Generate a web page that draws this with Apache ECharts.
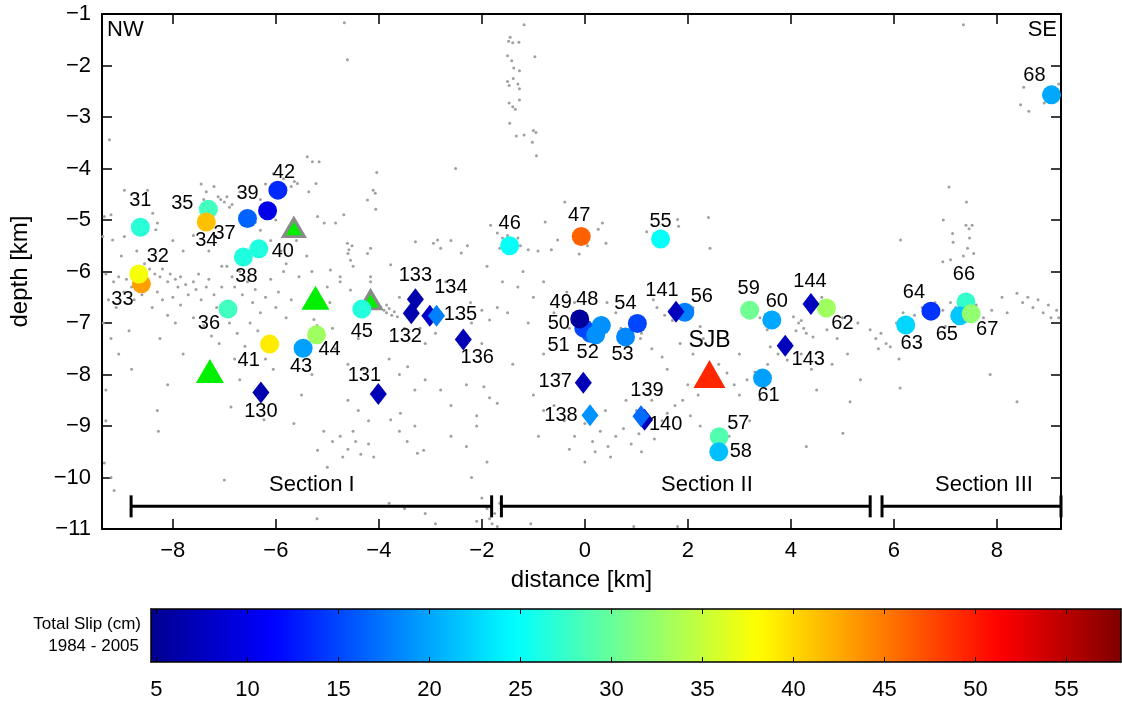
<!DOCTYPE html>
<html>
<head>
<meta charset="utf-8">
<script src="https://cdn.jsdelivr.net/npm/echarts@6.0.0/dist/echarts.min.js"></script>
<style>
  html, body { margin: 0; padding: 0; background: #fff; }
  #chart { width: 1122px; height: 704px; }
</style>
</head>
<body>
<div id="chart"></div>
<script>
// ---- Earthquakes with total slip 1984-2005 (circles) ----
const circleIds   = [31, 33, 32, 35, 34, 36, 37, 38, 40, 39, 42, 41, 43, 44, 45, 46, 47, 51, 50, 52, 48, 49, 53, 54, 55, 56, 57, 58, 59, 60, 61, 62, 63, 64, 66, 65, 67, 68];
const circleDist  = [-8.63, -8.61, -8.66, -7.31, -7.35, -6.93, -6.55, -6.63, -6.33, -6.16, -5.96, -6.12, -5.47, -5.21, -4.33, -1.46, -0.07, 0.11, -0.02, 0.21, 0.32, -0.10, 0.79, 1.02, 1.47, 1.94, 2.61, 2.60, 3.20, 3.63, 3.45, 4.69, 6.23, 6.72, 7.40, 7.28, 7.50, 9.06];
const circleDepth = [-5.14, -6.24, -6.05, -4.79, -5.04, -6.73, -4.97, -5.72, -5.56, -4.82, -4.42, -7.41, -7.49, -7.23, -6.73, -5.50, -5.32, -7.20, -7.10, -7.23, -7.05, -6.92, -7.27, -7.01, -5.37, -6.79, -9.21, -9.50, -6.75, -6.94, -8.07, -6.71, -7.04, -6.77, -6.59, -6.86, -6.82, -2.57];
const circleSlip  = [26.8, 43.0, 37.5, 28.0, 41.3, 28.0, 16.5, 26.3, 26.3, 10.0, 13.5, 39.0, 19.7, 33.0, 26.5, 25.0, 46.3, 16.4, 15.0, 18.9, 18.9, 5.5, 18.4, 15.0, 25.0, 18.0, 28.9, 21.4, 30.5, 20.2, 19.7, 33.0, 22.6, 14.0, 27.4, 21.8, 32.2, 20.2];

// ---- Repeating events (diamonds) ----
const diamondIds   = [130, 131, 133, 132, 134, 135, 136, 137, 138, 140, 139, 141, 143, 144];
const diamondDist  = [-6.29, -4.01, -3.29, -3.37, -3.01, -2.88, -2.36, -0.03, 0.10, 1.16, 1.09, 1.77, 3.89, 4.39];
const diamondDepth = [-8.35, -8.38, -6.54, -6.81, -6.86, -6.86, -7.32, -8.16, -8.79, -8.88, -8.81, -6.78, -7.44, -6.63];
const diamondSlip  = [6.5, 7.0, 6.5, 6.5, 8.0, 18.0, 7.0, 7.0, 19.0, 7.0, 17.0, 7.5, 7.5, 7.5];

// ---- Stations ----
const greenStationDist   = [-7.28, -5.23];
const greenStationDepth  = [-7.93, -6.51];
const edgedStationDist   = [-5.65, -4.16];
const edgedStationDepth  = [-5.15, -6.55];
const sjbDist  = [2.42];
const sjbDepth = [-7.99];

// ---- Fault sections ----
const sectionNames      = ['Section I', 'Section II', 'Section III'];
const sectionStart      = [-8.81, -1.62, 5.77];
const sectionEnd        = [-1.81, 5.54, 9.245];
const sectionDepth      = [-10.56, -10.56, -10.56];
const sectionLabelDist  = [-5.30, 2.37, 7.75];
const sectionLabelDepth = [-10.15, -10.15, -10.15];

// ---- Axis ticks ----
const distTicks = [-8, -6, -4, -2, 0, 2, 4, 6, 8];
const slipTicks = [5, 10, 15, 20, 25, 30, 35, 40, 45, 50, 55];
const distRange = [-9.375, 9.245];
const depthRange = [-11, -1];
const slipRange = [4.7, 58];

// ---- Background seismicity ----
const seismicity = [
  [-9.23,-3.44],[-9.2,-4.9],[-9.33,-4.93],[-9.36,-5.32],[-9.17,-5.39],[-8.94,-5.32],[-8.94,-4.42],[-8.68,-4.51],[-8.49,-4.42],[-9.3,-6.05],[-9.15,-6.2],[-9.05,-6.1],[-8.9,-6.15],[-8.8,-6.3],[-9.25,-6.55],[-9.1,-6.7],[-8.95,-6.4],[-8.75,-6.55],[-8.6,-6.45],[-8.5,-6.3],[-9.35,-7.0],[-9.2,-7.3],[-9.05,-7.6],[-8.85,-7.15],[-9.33,-9.72],[-9.2,-10.0],[-9.14,-10.25],[-9.3,-8.3],[-8.7,-5.6],[-8.55,-5.85],[-9.0,-5.7],[-8.8,-7.9],[-9.3,-8.9],
  [-8.39,-4.87],[-8.3,-5.06],[-8.33,-5.19],[-8.45,-5.95],[-8.35,-6.05],[-8.25,-6.1],[-8.2,-5.95],[-8.1,-6.2],[-8.05,-6.05],[-7.95,-6.15],[-7.9,-6.3],[-7.85,-6.1],[-7.75,-6.25],[-7.7,-6.45],[-7.6,-6.2],[-7.55,-6.35],[-7.5,-6.05],[-7.45,-6.55],[-7.35,-6.3],[-7.3,-6.15],[-7.2,-6.45],[-7.15,-6.7],[-7.05,-6.3],[-8.3,-6.4],[-8.2,-6.55],[-8.0,-6.5],[-7.85,-6.65],[-8.4,-6.7],[-8.1,-6.85],[-7.95,-7.0],[-8.25,-7.3],[-7.6,-6.9],[-7.4,-7.05],[-7.25,-7.25],[-7.1,-7.4],[-8.3,-8.7],[-8.28,-9.1],[-8.1,-8.2],[-7.8,-7.6],[-7.45,-4.3],[-7.35,-4.45],[-7.2,-4.35],[-7.12,-4.55],[-7.07,-4.6],[-7.0,-4.65],[-6.95,-4.55],[-6.9,-4.75],[-7.4,-4.6],[-7.0,-10.05],[-7.6,-5.3],[-7.8,-5.6],[-8.0,-5.4],[-7.3,-5.6],[-7.05,-5.9],
  [-6.85,-4.7],[-6.7,-4.45],[-6.5,-4.35],[-6.3,-4.6],[-6.2,-4.3],[-6.05,-4.1],[-5.9,-4.55],[-5.85,-4.2],[-5.7,-4.35],[-5.64,-4.25],[-5.58,-4.29],[-5.36,-4.45],[-5.22,-4.29],[-5.39,-3.77],[-5.29,-3.87],[-5.16,-3.87],[-6.95,-5.9],[-6.85,-6.1],[-6.8,-6.3],[-6.7,-6.0],[-6.65,-6.45],[-6.55,-6.2],[-6.45,-6.6],[-6.4,-6.35],[-6.3,-6.8],[-6.2,-6.5],[-6.1,-6.15],[-6.0,-6.7],[-5.95,-6.4],[-5.85,-6.0],[-5.8,-6.9],[-5.7,-6.55],[-6.9,-7.0],[-6.75,-7.2],[-6.6,-7.45],[-6.5,-7.0],[-6.35,-7.15],[-6.2,-7.7],[-6.05,-7.9],[-6.8,-7.7],[-6.7,-8.1],[-6.87,-8.63],[-6.5,-8.8],[-6.23,-8.88],[-5.65,-8.95],[-6.3,-5.2],[-6.1,-5.4],[-5.9,-5.6],[-5.8,-5.85],[-5.6,-5.4],[-5.55,-6.1],[-6.0,-5.0],[-6.4,-5.05],
  [-5.5,-5.3],[-5.4,-5.7],[-5.3,-6.0],[-5.19,-4.93],[-5.06,-5.06],[-4.84,-5.06],[-5.26,-6.93],[-5.12,-7.2],[-5.2,-7.05],[-5.0,-6.3],[-4.95,-6.6],[-4.9,-7.1],[-4.85,-7.5],[-4.75,-6.2],[-4.68,-4.9],[-4.61,-5.45],[-4.58,-5.58],[-4.55,-5.78],[-4.6,-5.65],[-4.52,-5.5],[-4.5,-5.9],[-4.16,-5.55],[-4.22,-5.65],[-4.22,-4.61],[-4.11,-4.42],[-4.07,-4.48],[-4.06,-4.79],[-4.04,-4.08],[-4.67,-1.17],[-4.61,-1.89],[-4.94,-5.97],[-4.75,-6.1],[-4.55,-6.36],[-4.16,-6.1],[-4.16,-6.2],[-4.4,-7.3],[-4.6,-7.8],[-4.3,-7.9],[-4.6,-8.5],[-4.4,-8.7],[-4.2,-8.9],[-5.19,-9.47],[-5.07,-9.1],[-4.9,-9.3],[-4.75,-9.2],[-4.6,-9.45],[-4.5,-9.1],[-4.35,-9.55],[-4.2,-9.35],[-4.1,-9.6],[-4.45,-9.3],[-4.7,-9.6],[-5.0,-9.8],[-5.5,-8.4],[-5.3,-8.0],
  [-3.96,-6.69],[-3.9,-6.75],[-3.85,-6.8],[-3.8,-6.72],[-3.75,-6.85],[-3.7,-6.78],[-3.64,-6.88],[-3.85,-6.65],[-3.77,-5.87],[-3.29,-5.42],[-3.6,-6.5],[-3.5,-7.1],[-3.4,-7.3],[-3.2,-7.1],[-3.1,-7.4],[-2.9,-7.2],[-3.8,-7.7],[-3.6,-8.0],[-3.3,-8.3],[-3.44,-7.85],[-3.1,-8.1],[-2.8,-8.3],[-2.6,-8.6],[-2.3,-8.2],[-2.1,-8.8],[-1.96,-8.24],[-1.85,-8.45],[-1.7,-8.56],[-3.77,-8.88],[-3.6,-9.1],[-3.45,-9.3],[-3.3,-9.0],[-3.13,-9.47],[-3.58,-8.75],[-3.25,-9.53],[-3.8,-10.5],[-3.5,-10.6],[-3.1,-10.7],[-2.94,-5.45],[-2.8,-5.55],[-2.6,-5.4],[-2.4,-5.64],[-2.28,-5.5],[-2.86,-5.39],[-2.51,-4.0],[-2.22,-6.6],[-2.0,-6.75],[-1.85,-6.94],[-1.7,-6.7],[-2.7,-6.2],[-2.5,-6.9],[-2.2,-7.0],[-2.0,-7.4],[-2.6,-9.2],[-2.3,-9.4],[-2.1,-9.0],[-1.9,-9.7],[-2.2,-10.0],
  [-2.0,-10.4],[-1.9,-10.6],[-1.85,-10.8],[-1.8,-10.9],[-1.75,-10.7],[-1.7,-10.95],[-2.1,-10.85],[-1.65,-10.5],[-5.2,-10.8],[-2.9,-10.9],[0.95,-10.95],[1.8,-10.95],[-1.05,-10.9],
  [-1.48,-1.53],[-1.4,-1.56],[-1.28,-1.55],[-1.5,-1.81],[-1.42,-1.91],[-1.27,-2.1],[-1.39,-2.25],[-1.5,-2.31],[-1.3,-2.36],[-1.47,-2.39],[-1.27,-2.45],[-1.47,-2.73],[-1.4,-2.8],[-1.27,-2.67],[-1.35,-2.85],[-1.46,-3.12],[-1.33,-3.37],[-1.18,-3.35],[-1.0,-3.26],[-0.95,-3.3],[-1.02,-3.49],[-0.94,-3.75],[-1.18,-1.21],[-0.97,-1.83],[-1.45,-1.45],[-1.38,-2.05],
  [-1.83,-5.1],[-1.7,-5.25],[-1.6,-5.35],[-1.55,-5.45],[-1.5,-5.3],[-1.45,-5.55],[-1.4,-5.4],[-1.35,-5.6],[-1.3,-5.35],[-1.25,-5.5],[-1.1,-5.58],[-1.65,-5.55],[-0.39,-4.65],[-0.77,-5.04],[0.34,-5.06],[0.26,-5.18],[0.41,-5.45],[0.05,-5.5],[-0.53,-5.39],[-0.65,-5.58],[-0.91,-5.6],[-0.11,-5.66],[-1.9,-5.9],[-1.6,-6.2],[-1.3,-6.3],[-1.2,-6.0],[-1.0,-6.5],[-0.8,-6.2],[-1.5,-6.8],[-1.1,-7.0],[-0.6,-6.8],[-0.35,-6.4],[-0.2,-6.6],[-0.3,-7.1],[0.1,-6.5],[0.43,-6.6],[0.6,-6.8],[0.7,-7.1],[0.9,-6.9],[1.1,-7.2],[-0.8,-7.6],[-1.4,-7.8],[-0.5,-8.0],
  [-1.0,-8.4],[-0.8,-8.7],[-0.6,-8.6],[-0.4,-8.9],[-0.2,-9.2],[0.0,-8.95],[0.15,-9.3],[0.3,-9.1],[0.45,-9.4],[0.6,-9.2],[0.75,-9.05],[0.9,-9.35],[1.05,-9.15],[1.2,-8.95],[1.35,-9.25],[1.5,-8.9],[1.6,-8.75],[1.75,-8.6],[1.9,-8.5],[2.05,-8.8],[2.2,-8.4],[0.2,-9.5],[0.5,-9.6],[-0.3,-9.45],[1.0,-8.7],[0.8,-8.5],[0.4,-8.7],[1.3,-8.5],[1.1,-9.5],[2.24,-9.0],[-0.9,-9.2],[0.0,-9.7],
  [1.4,-6.7],[1.55,-6.85],[1.65,-6.75],[1.7,-6.95],[1.85,-6.8],[2.0,-6.9],[2.1,-6.7],[2.24,-7.07],[1.33,-6.55],[1.2,-5.23],[1.8,-4.99],[1.82,-5.12],[2.4,-4.95],[2.43,-5.55],[1.08,-7.3],[1.3,-7.5],[1.5,-7.66],[1.85,-7.4],[1.6,-7.9],[2.1,-7.6],[2.0,-8.2],[1.47,-8.3],[2.3,-7.3],
  [2.76,-7.97],[2.9,-8.2],[3.0,-8.4],[3.15,-8.1],[3.3,-7.95],[3.4,-8.49],[3.55,-7.8],[3.6,-7.46],[3.75,-7.6],[3.93,-7.72],[3.27,-6.75],[3.4,-6.9],[3.54,-7.13],[4.05,-6.88],[4.15,-7.0],[4.2,-6.95],[4.25,-7.1],[4.3,-7.2],[4.43,-7.27],[4.1,-7.15],[4.0,-7.4],[4.2,-7.6],[4.4,-7.9],[4.7,-7.13],[4.9,-7.3],[5.1,-7.6],[5.35,-8.1],[4.8,-7.8],[5.15,-8.53],[5.01,-9.14],[4.5,-8.3],[3.2,-8.9],[2.8,-9.2],[4.3,-9.4],[3.0,-7.6],[2.6,-7.8],[4.6,-6.5],[5.0,-6.9],[5.3,-7.0],
  [5.54,-7.13],[5.65,-7.3],[5.75,-7.2],[5.85,-7.4],[5.93,-7.46],[5.7,-7.5],[6.05,-7.0],[6.18,-6.8],[6.1,-7.7],[6.12,-8.26],[6.4,-6.85],[6.55,-6.7],[6.8,-6.6],[6.95,-6.75],[7.1,-6.6],[7.2,-6.7],[7.3,-6.55],[7.6,-6.65],[7.74,-6.9],[7.0,-7.07],[6.96,-5.0],[7.1,-5.77],[7.4,-5.1],[7.47,-5.35],[7.55,-5.65],[6.13,-5.39],[7.07,-4.36],[7.41,-4.65],[7.14,-5.26],[7.15,-5.43],[7.52,-5.1],[7.46,-5.17],[7.43,-5.55],[6.95,-5.81],[7.35,-5.7],[7.35,-1.21],[8.52,-2.42],[8.46,-2.76],[8.62,-2.89],[8.92,-2.73],[9.2,-2.36],[8.39,-6.42],[8.5,-6.6],[8.6,-6.5],[8.7,-6.7],[8.8,-6.55],[8.9,-6.8],[9.0,-6.65],[9.05,-6.9],[9.16,-6.75],[8.2,-6.8],[7.9,-6.75],[8.1,-6.5],[7.87,-8.0],[8.39,-8.53],[9.2,-6.9]
];

// Label placement (pixel offsets from each marker centre)
const labelOffset = {
  31:[0,-27], 32:[19,-18], 33:[-19,16], 34:[0,18], 35:[-26,-6], 36:[-19,14], 37:[-23,15], 38:[3,19],
  39:[-20,-17], 40:[24,3], 41:[-21,16], 42:[6,-18], 43:[-2,18], 44:[13,15], 45:[0,22], 46:[0,-22],
  47:[-2,-21], 48:[-14,-26], 49:[-19,-16], 50:[-25,-5], 51:[-32,12], 52:[-8,18], 53:[-3,18], 54:[-12,-20],
  55:[0,-18], 56:[17,-16], 57:[19,-13], 58:[22,0], 59:[-1,-22], 60:[5,-18], 61:[6,17], 62:[16,15],
  63:[6,18], 64:[-17,-19], 65:[-13,19], 66:[-2,-27], 67:[16,16], 68:[-17,-19],
  130:[0,19], 131:[-14,-19], 132:[-6,23], 133:[0,-24], 134:[21,-28], 135:[24,-1], 136:[14,18],
  137:[-28,-1], 138:[-29,0], 139:[6,-26], 140:[21,5], 141:[-14,-21], 143:[23,14], 144:[-1,-22]
};

const FONT = "'Liberation Sans', Arial, Helvetica, sans-serif";
const jet = ['#000090', '#0000ff', '#0080ff', '#00ffff', '#80ff80', '#ffff00', '#ff8000', '#ff0000', '#800000'];
const minus = v => (v < 0 ? '\u2212' + Math.abs(v) : String(v));

function labelledPoints(ids, xs, ys, slips) {
  return ids.map((id, i) => ({
    value: [xs[i], ys[i], slips[i], id],
    label: { offset: labelOffset[id] }
  }));
}

const chart = echarts.init(document.getElementById('chart'), null, { renderer: 'canvas' });

const pointLabel = {
  show: true, position: 'inside', color: '#000', opacity: 1, fontSize: 20, fontFamily: FONT,
  formatter: p => String(p.value[3])
};

const frameLine = { show: true, onZero: false, lineStyle: { color: '#000', width: 2 } };
const frameTick = { show: true, inside: true, length: 10, lineStyle: { color: '#000', width: 1.5 } };

chart.setOption({
  animation: false,
  backgroundColor: '#fff',
  textStyle: { fontFamily: FONT },
  grid: [
    { left: 101, top: 14, width: 960, height: 515 },
    { left: 151, top: 609, width: 970, height: 53 }
  ],
  xAxis: [
    {
      gridIndex: 0, type: 'value', position: 'bottom', min: distRange[0], max: distRange[1],
      axisLine: frameLine,
      axisTick: Object.assign({}, frameTick, { customValues: distTicks }),
      axisLabel: { customValues: distTicks, formatter: minus, fontSize: 22, color: '#000', margin: 11, fontFamily: FONT },
      splitLine: { show: false },
      name: 'distance [km]', nameLocation: 'middle', nameGap: 39,
      nameTextStyle: { fontSize: 24, color: '#000', fontFamily: FONT }
    },
    {
      gridIndex: 0, type: 'value', position: 'top', min: distRange[0], max: distRange[1],
      axisLine: frameLine,
      axisTick: Object.assign({}, frameTick, { customValues: distTicks }),
      axisLabel: { show: false }, splitLine: { show: false }
    },
    {
      gridIndex: 1, type: 'value', position: 'bottom', min: slipRange[0], max: slipRange[1], z: 10,
      axisLine: { show: true, onZero: false, lineStyle: { color: '#000', width: 1.5 } },
      axisTick: { show: true, inside: true, length: 5, customValues: slipTicks, lineStyle: { color: '#000', width: 1 } },
      axisLabel: { customValues: slipTicks, fontSize: 22, color: '#000', margin: 17, fontFamily: FONT },
      splitLine: { show: false }
    },
    {
      gridIndex: 1, type: 'value', position: 'top', min: slipRange[0], max: slipRange[1], z: 10,
      axisLine: { show: true, onZero: false, lineStyle: { color: '#000', width: 1.5 } },
      axisTick: { show: true, inside: true, length: 5, customValues: slipTicks, lineStyle: { color: '#000', width: 1 } },
      axisLabel: { show: false }, splitLine: { show: false }
    }
  ],
  yAxis: [
    {
      gridIndex: 0, type: 'value', position: 'left', min: depthRange[0], max: depthRange[1], interval: 1,
      axisLine: frameLine, axisTick: frameTick,
      axisLabel: { formatter: minus, fontSize: 22, color: '#000', margin: 11, fontFamily: FONT },
      splitLine: { show: false },
      name: 'depth [km]', nameLocation: 'middle', nameGap: 70, nameRotate: 90,
      nameTextStyle: { fontSize: 24, color: '#000', fontFamily: FONT }
    },
    {
      gridIndex: 0, type: 'value', position: 'right', min: depthRange[0], max: depthRange[1], interval: 1,
      axisLine: frameLine, axisTick: frameTick,
      axisLabel: { show: false }, splitLine: { show: false }
    },
    {
      gridIndex: 1, type: 'value', position: 'left', min: 0, max: 1, z: 10,
      axisLine: { show: true, onZero: false, lineStyle: { color: '#000', width: 1.5 } },
      axisTick: { show: false }, axisLabel: { show: false }, splitLine: { show: false }
    },
    {
      gridIndex: 1, type: 'value', position: 'right', min: 0, max: 1, z: 10,
      axisLine: { show: true, onZero: false, lineStyle: { color: '#000', width: 1.5 } },
      axisTick: { show: false }, axisLabel: { show: false }, splitLine: { show: false }
    }
  ],
  visualMap: {
    type: 'continuous', min: slipRange[0], max: slipRange[1], dimension: 2,
    seriesIndex: [5, 6], inRange: { color: jet },
    orient: 'horizontal', left: 151, top: 609, itemWidth: 53, itemHeight: 970,
    calculable: false, hoverLink: false, padding: 0, text: null, showLabel: false
  },
  graphic: [
    { type: 'text', x: 107, y: 30, style: { text: 'NW', fill: '#000', font: '22px ' + FONT, verticalAlign: 'middle' } },
    { type: 'text', x: 1057, y: 30, style: { text: 'SE', fill: '#000', font: '22px ' + FONT, align: 'right', verticalAlign: 'middle' } },
    { type: 'text', x: 141, y: 624, style: { text: 'Total Slip (cm)', font: '17px ' + FONT, fill: '#000', align: 'right', verticalAlign: 'middle' } },
    { type: 'text', x: 139, y: 646, style: { text: '1984 - 2005', font: '17px ' + FONT, fill: '#000', align: 'right', verticalAlign: 'middle' } }
  ],
  series: [
    {
      type: 'scatter', name: 'seismicity', xAxisIndex: 0, yAxisIndex: 0, silent: true, z: 1,
      symbol: 'circle', symbolSize: 3, itemStyle: { color: '#a0a0a0', opacity: 1 },
      data: seismicity
    },
    {
      type: 'custom', name: 'sections', xAxisIndex: 0, yAxisIndex: 0, silent: true, z: 2,
      data: sectionNames.map((n, i) => [sectionStart[i], sectionEnd[i], sectionDepth[i], sectionLabelDist[i], sectionLabelDepth[i]]),
      renderItem: (params, api) => {
        const s = api.coord([api.value(0), api.value(2)]);
        const e = api.coord([api.value(1), api.value(2)]);
        const t = api.coord([api.value(3), api.value(4)]);
        const cap = 11;
        const st = { stroke: '#000', lineWidth: 3 };
        return {
          type: 'group',
          children: [
            { type: 'line', shape: { x1: s[0], y1: s[1], x2: e[0], y2: e[1] }, style: st },
            { type: 'line', shape: { x1: s[0], y1: s[1] - cap, x2: s[0], y2: s[1] + cap }, style: st },
            { type: 'line', shape: { x1: e[0], y1: e[1] - cap, x2: e[0], y2: e[1] + cap }, style: st },
            { type: 'text', x: t[0], y: t[1], style: { text: sectionNames[params.dataIndex], font: '22px ' + FONT, fill: '#000', align: 'center', verticalAlign: 'middle' } }
          ]
        };
      }
    },
    {
      type: 'scatter', name: 'stations', xAxisIndex: 0, yAxisIndex: 0, silent: true, z: 3,
      symbol: 'triangle', symbolSize: [28, 24], itemStyle: { color: '#00f000', opacity: 1 },
      data: greenStationDist.map((x, i) => [x, greenStationDepth[i]])
    },
    {
      type: 'scatter', name: 'borehole stations', xAxisIndex: 0, yAxisIndex: 0, silent: true, z: 3,
      symbol: 'triangle', symbolSize: [21, 18],
      itemStyle: { color: '#00f000', borderColor: '#8a8a8a', borderWidth: 3, opacity: 1 },
      data: edgedStationDist.map((x, i) => [x, edgedStationDepth[i]])
    },
    {
      type: 'scatter', name: 'SJB', xAxisIndex: 0, yAxisIndex: 0, silent: true, z: 3,
      symbol: 'triangle', symbolSize: [32, 28], itemStyle: { color: '#ff2600', opacity: 1 },
      label: { show: true, position: 'inside', offset: [0, -33], formatter: 'SJB', color: '#000', opacity: 1, fontSize: 23, fontFamily: FONT },
      data: sjbDist.map((x, i) => [x, sjbDepth[i]])
    },
    {
      type: 'scatter', name: 'events', xAxisIndex: 0, yAxisIndex: 0, silent: true, z: 4,
      symbol: 'circle', symbolSize: 19, itemStyle: { opacity: 1 },
      label: pointLabel,
      data: labelledPoints(circleIds, circleDist, circleDepth, circleSlip)
    },
    {
      type: 'scatter', name: 'repeaters', xAxisIndex: 0, yAxisIndex: 0, silent: true, z: 5,
      symbol: 'diamond', symbolSize: [17, 22], itemStyle: { opacity: 1 },
      label: pointLabel,
      data: labelledPoints(diamondIds, diamondDist, diamondDepth, diamondSlip)
    }
  ]
});
</script>
</body>
</html>
